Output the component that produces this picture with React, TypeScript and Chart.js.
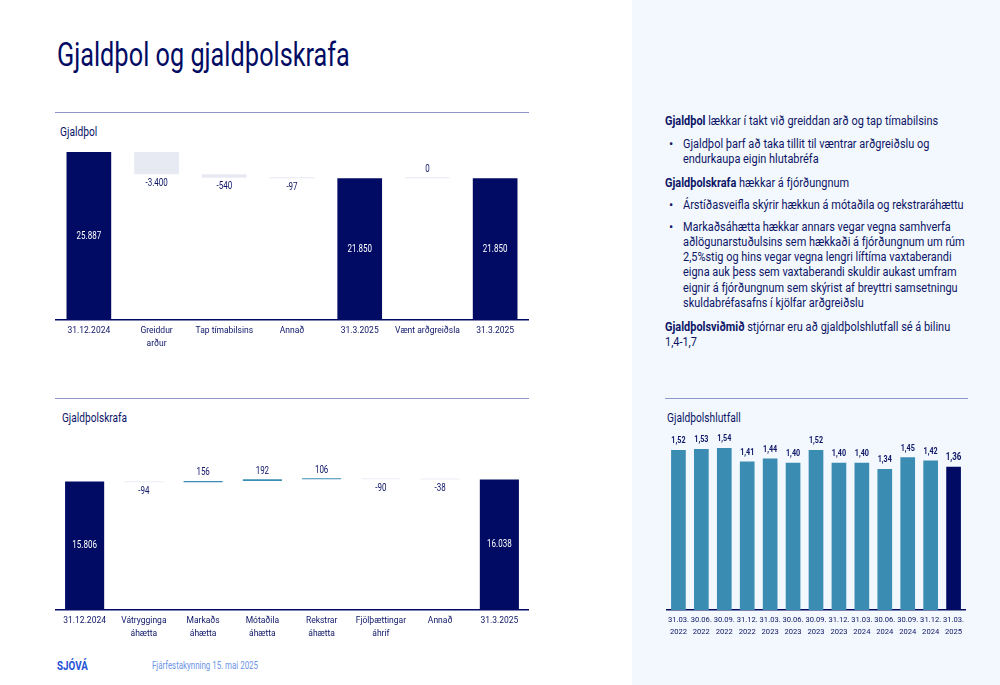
import React, { useEffect, useLayoutEffect, useRef, useState } from "react";
import { Chart, registerables } from "chart.js";

Chart.register(...registerables);

const NAVY = "#020b63";
const TEXT = "#0d1566";
const TEAL = "#3b8cb3";
const LIGHT = "#e7e9f3";
const RULE = "#9095c8";
const FONT = "Roboto, 'Liberation Sans', sans-serif";

// ---- Gjaldþol (waterfall) ----
const solvencyCategories: (string | string[])[] = [
  "31.12.2024",
  ["Greiddur", "arður"],
  "Tap tímabilsins",
  "Annað",
  "31.3.2025",
  "Vænt arðgreiðsla",
  "31.3.2025",
];
const solvencyValues = [25887, -3400, -540, -97, 21850, 0, 21850];
const solvencyIsTotal = [true, false, false, false, true, false, true];

// ---- Gjaldþolskrafa (waterfall) ----
const scrCategories: (string | string[])[] = [
  "31.12.2024",
  ["Vátrygginga", "áhætta"],
  ["Markaðs", "áhætta"],
  ["Mótaðila", "áhætta"],
  ["Rekstrar", "áhætta"],
  ["Fjölþættingar", "áhrif"],
  "Annað",
  "31.3.2025",
];
const scrValues = [15806, -94, 156, 192, 106, -90, -38, 16038];
const scrIsTotal = [true, false, false, false, false, false, false, true];

// ---- Gjaldþolshlutfall ----
const ratioCategories: string[][] = [
  ["31.03.", "2022"],
  ["30.06.", "2022"],
  ["30.09.", "2022"],
  ["31.12.", "2022"],
  ["31.03.", "2023"],
  ["30.06.", "2023"],
  ["30.09.", "2023"],
  ["31.12.", "2023"],
  ["31.03.", "2024"],
  ["30.06.", "2024"],
  ["30.09.", "2024"],
  ["31.12.", "2024"],
  ["31.03.", "2025"],
];
const ratioValues = [1.52, 1.53, 1.54, 1.41, 1.44, 1.4, 1.52, 1.4, 1.4, 1.34, 1.45, 1.42, 1.36];

function fmtThousands(v: number): string {
  const s = Math.abs(Math.round(v))
    .toString()
    .replace(/\B(?=(\d{3})+(?!\d))/g, ".");
  return (v < 0 ? "-" : "") + s;
}

function buildWaterfall(values: number[], isTotal: boolean[]): [number, number][] {
  let run = 0;
  return values.map((v, i) => {
    if (isTotal[i]) {
      run = v;
      return [0, v];
    }
    const start = run;
    run += v;
    return [start, run];
  });
}

// draws horizontally condensed text (the original uses a condensed typeface)
function squeezedText(ctx: CanvasRenderingContext2D, txt: string, x: number, y: number, sx: number) {
  ctx.save();
  ctx.translate(x, y);
  ctx.scale(sx, 1);
  ctx.fillText(txt, 0, 0);
  ctx.restore();
}

type WFProps = {
  categories: (string | string[])[];
  values: number[];
  isTotal: boolean[];
  yMax: number;
  upColor: string;
  downColor: string;
  width: number;
  height: number;
};

function Waterfall(p: WFProps) {
  const ref = useRef<HTMLCanvasElement>(null);
  useEffect(() => {
    if (!ref.current) return;
    const data = buildWaterfall(p.values, p.isTotal);
    const colors = p.values.map((v, i) => (p.isTotal[i] ? NAVY : v > 0 ? p.upColor : p.downColor));
    const chart = new Chart(ref.current, {
      type: "bar",
      data: {
        labels: p.categories,
        datasets: [
          {
            data: data as any,
            backgroundColor: colors,
            borderWidth: 0,
            barPercentage: 0.66,
            categoryPercentage: 1,
            minBarLength: 1,
          },
        ],
      },
      options: {
        responsive: false,
        animation: false,
        maintainAspectRatio: false,
        layout: { padding: 0 },
        plugins: { legend: { display: false }, tooltip: { enabled: false } },
        scales: {
          x: {
            grid: { display: false, drawTicks: false },
            border: { display: true, color: NAVY, width: 1.5 },
            ticks: {
              color: TEXT,
              font: { family: FONT, size: 8.5, lineHeight: "13px" },
              padding: 4,
              autoSkip: false,
              maxRotation: 0,
              minRotation: 0,
            },
          },
          y: { display: false, min: 0, max: p.yMax },
        },
      },
      plugins: [
        {
          id: "wfLabels",
          afterDatasetsDraw(c: any) {
            const ctx = c.ctx as CanvasRenderingContext2D;
            const meta = c.getDatasetMeta(0);
            ctx.save();
            ctx.font = `10px ${FONT}`;
            ctx.textAlign = "center";
            ctx.textBaseline = "middle";
            meta.data.forEach((el: any, i: number) => {
              const top = Math.min(el.y, el.base);
              const bottom = Math.max(el.y, el.base);
              const v = p.values[i];
              const txt = fmtThousands(v);
              if (p.isTotal[i]) {
                ctx.fillStyle = "#ffffff";
                squeezedText(ctx, txt, el.x, (top + bottom) / 2, 0.8);
              } else if (v < 0) {
                ctx.fillStyle = TEXT;
                squeezedText(ctx, txt, el.x, bottom + 9, 0.8);
              } else {
                ctx.fillStyle = TEXT;
                squeezedText(ctx, txt, el.x, top - 8, 0.8);
              }
            });
            ctx.restore();
          },
        },
      ],
    } as any);
    return () => chart.destroy();
  }, []);
  return <canvas ref={ref} width={p.width} height={p.height} style={{ width: p.width, height: p.height, display: "block" }} />;
}

function RatioChart() {
  const ref = useRef<HTMLCanvasElement>(null);
  useEffect(() => {
    if (!ref.current) return;
    const colors = ratioValues.map((_, i) => (i === ratioValues.length - 1 ? NAVY : TEAL));
    const chart = new Chart(ref.current, {
      type: "bar",
      data: {
        labels: ratioCategories,
        datasets: [
          {
            data: ratioValues,
            backgroundColor: colors,
            borderWidth: 0,
            barPercentage: 0.64,
            categoryPercentage: 1,
          },
        ],
      },
      options: {
        responsive: false,
        animation: false,
        maintainAspectRatio: false,
        layout: { padding: 0 },
        plugins: { legend: { display: false }, tooltip: { enabled: false } },
        scales: {
          x: {
            grid: { display: false, drawTicks: false },
            border: { display: true, color: NAVY, width: 1.5 },
            ticks: {
              color: TEXT,
              font: { family: FONT, size: 7.6, lineHeight: "12px" },
              padding: 4,
              autoSkip: false,
              maxRotation: 0,
              minRotation: 0,
            },
          },
          y: { display: false, min: 0, max: 1.71 },
        },
      },
      plugins: [
        {
          id: "ratioLabels",
          afterDatasetsDraw(c: any) {
            const ctx = c.ctx as CanvasRenderingContext2D;
            const meta = c.getDatasetMeta(0);
            ctx.save();
            ctx.textAlign = "center";
            ctx.textBaseline = "middle";
            meta.data.forEach((el: any, i: number) => {
              const last = i === ratioValues.length - 1;
              ctx.font = `bold ${last ? 10 : 9}px ${FONT}`;
              ctx.fillStyle = TEXT;
              squeezedText(ctx, ratioValues[i].toFixed(2).replace(".", ","), el.x, el.y - 9, 0.8);
            });
            ctx.restore();
          },
        },
      ],
    } as any);
    return () => chart.destroy();
  }, []);
  return <canvas ref={ref} width={304} height={212} style={{ width: 304, height: 212, display: "block" }} />;
}

const abs = (left: number, top: number, extra: React.CSSProperties = {}): React.CSSProperties => ({
  position: "absolute",
  left,
  top,
  ...extra,
});

// Text squeezed horizontally to the width it has in the original (condensed face)
function Squeeze({
  target,
  style,
  children,
}: {
  target: number;
  style: React.CSSProperties;
  children: React.ReactNode;
}) {
  const ref = useRef<HTMLSpanElement>(null);
  const [s, setS] = useState(1);
  useLayoutEffect(() => {
    if (ref.current) {
      const w = ref.current.offsetWidth;
      if (w > 0) setS(target / w);
    }
  }, []);
  return (
    <div style={{ ...style, whiteSpace: "nowrap" }}>
      <span
        ref={ref}
        style={{ display: "inline-block", transform: `scaleX(${s})`, transformOrigin: "left top" }}
      >
        {children}
      </span>
    </div>
  );
}

const bodyText: React.CSSProperties = {
  fontFamily: FONT,
  fontSize: 12.5,
  lineHeight: "15.3px",
  color: TEXT,
  whiteSpace: "nowrap",
};

export default function App() {
  const firstLine = useRef<HTMLSpanElement>(null);
  const [bodyScale, setBodyScale] = useState(1);
  useLayoutEffect(() => {
    if (firstLine.current) {
      const w = firstLine.current.offsetWidth;
      if (w > 0) setBodyScale(273 / w);
    }
  }, []);

  const squeeze: React.CSSProperties = {
    display: "inline-block",
    transform: `scaleX(${bodyScale})`,
    transformOrigin: "left top",
  };

  const Block = ({ left, top, children }: { left: number; top: number; children: React.ReactNode }) => (
    <div style={abs(left, top, bodyText)}>
      <span style={squeeze}>{children}</span>
    </div>
  );

  const Bullet = ({ top, lines }: { top: number; lines: string[] }) => (
    <>
      <div style={abs(669, top, bodyText)}>•</div>
      <Block left={683} top={top}>
        {lines.map((l, i) => (
          <div key={i}>{l}</div>
        ))}
      </Block>
    </>
  );

  return (
    <div
      style={{
        position: "absolute",
        left: 0,
        top: 0,
        width: 1000,
        height: 685,
        background: "#ffffff",
        overflow: "hidden",
        fontFamily: FONT,
      }}
    >
      {/* right panel */}
      <div style={abs(632, 0, { width: 368, height: 685, background: "#f2f8fd" })} />

      {/* title */}
      <Squeeze target={293} style={abs(57, 37, { fontSize: 34, lineHeight: "34px", color: NAVY })}>
        Gjaldþol og gjaldþolskrafa
      </Squeeze>

      {/* rules */}
      <div style={abs(55, 112, { width: 474, height: 1, background: RULE })} />
      <div style={abs(55, 398, { width: 474, height: 1, background: RULE })} />
      <div style={abs(665, 398, { width: 303, height: 1, background: RULE })} />

      {/* chart titles */}
      <Squeeze target={37} style={abs(60, 123, { fontSize: 13.5, lineHeight: "16px", color: TEXT })}>
        Gjaldþol
      </Squeeze>
      <Squeeze target={65} style={abs(62, 409, { fontSize: 13.5, lineHeight: "16px", color: TEXT })}>
        Gjaldþolskrafa
      </Squeeze>
      <Squeeze target={74} style={abs(667, 409, { fontSize: 13.5, lineHeight: "16px", color: TEXT })}>
        Gjaldþolshlutfall
      </Squeeze>

      {/* charts */}
      <div style={abs(55, 135)}>
        <Waterfall
          categories={solvencyCategories}
          values={solvencyValues}
          isTotal={solvencyIsTotal}
          yMax={28520}
          upColor={TEAL}
          downColor={LIGHT}
          width={474}
          height={219}
        />
      </div>
      <div style={abs(55, 440)}>
        <Waterfall
          categories={scrCategories}
          values={scrValues}
          isTotal={scrIsTotal}
          yMax={20900}
          upColor={TEAL}
          downColor={"#eceef5"}
          width={474}
          height={204}
        />
      </div>
      <div style={abs(664, 430)}>
        <RatioChart />
      </div>

      {/* right text */}
      <div style={abs(665, 112.5, bodyText)}>
        <span ref={firstLine} style={squeeze}>
          <b>Gjaldþol</b> lækkar í takt við greiddan arð og tap tímabilsins
        </span>
      </div>
      <Bullet top={135.5} lines={["Gjaldþol þarf að taka tillit til væntrar arðgreiðslu og", "endurkaupa eigin hlutabréfa"]} />
      <Block left={665} top={174.5}>
        <b>Gjaldþolskrafa</b> hækkar á fjórðungnum
      </Block>
      <Bullet top={196.5} lines={["Árstíðasveifla skýrir hækkun á mótaðila og rekstraráhættu"]} />
      <Bullet
        top={218.5}
        lines={[
          "Markaðsáhætta hækkar annars vegar vegna samhverfa",
          "aðlögunarstuðulsins sem hækkaði á fjórðungnum um rúm",
          "2,5%stig og hins vegar vegna lengri líftíma vaxtaberandi",
          "eigna auk þess sem vaxtaberandi skuldir aukast umfram",
          "eignir á fjórðungnum sem skýrist af breyttri samsetningu",
          "skuldabréfasafns í kjölfar arðgreiðslu",
        ]}
      />
      <Block left={665} top={318.5}>
        <b>Gjaldþolsviðmið</b> stjórnar eru að gjaldþolshlutfall sé á bilinu
        <br />
        1,4-1,7
      </Block>

      {/* footer */}
      <Squeeze
        target={31}
        style={abs(57, 659, { fontSize: 12, lineHeight: "14px", fontWeight: "bold", color: "#2352d6" })}
      >
        SJÓVÁ
      </Squeeze>
      <Squeeze target={106} style={abs(152, 660, { fontSize: 10.5, lineHeight: "12px", color: "#6b93e6" })}>
        Fjárfestakynning 15. mai 2025
      </Squeeze>
    </div>
  );
}
